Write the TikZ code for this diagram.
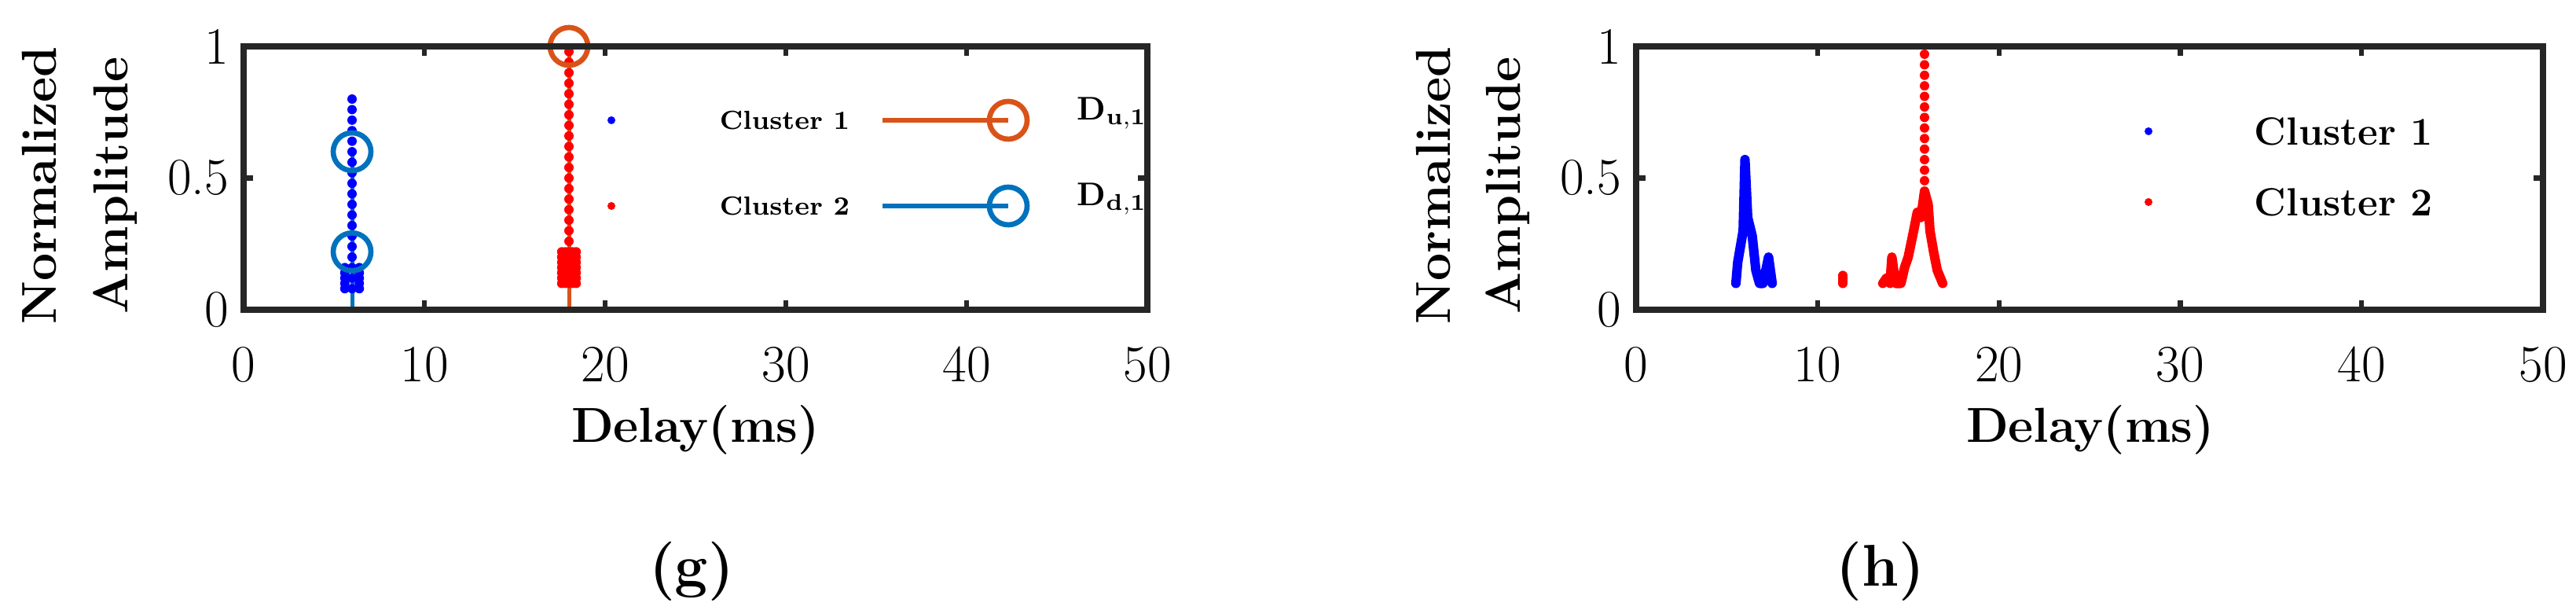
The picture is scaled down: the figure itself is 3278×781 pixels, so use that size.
\documentclass[tikz,border=0pt]{standalone}
\begin{document}
\definecolor{mblue}{RGB}{0,114,189}
\definecolor{morange}{RGB}{217,83,25}
\begin{tikzpicture}[x=0.24pt,y=0.24pt,
  frame/.style={line width=2pt,black!85},
  tick/.style={line width=1.5pt,black!85},
  ticklab/.style={font=\fontsize{16}{16}\selectfont,inner sep=0pt},
  axlab/.style={font=\fontsize{15}{15}\selectfont\bfseries,inner sep=0pt},
  caplab/.style={font=\fontsize{18}{18}\selectfont\bfseries,inner sep=0pt},
  leg/.style={font=\fontsize{8}{8}\selectfont\bfseries,inner sep=0pt,anchor=west},
  dlab/.style={font=\fontsize{10}{10}\selectfont\bfseries,inner sep=0pt,anchor=west},
  legb/.style={font=\fontsize{12}{12}\selectfont\bfseries,inner sep=0pt,anchor=west},
  bdot/.style={fill=blue},
  rdot/.style={fill=red}]
\useasboundingbox (0,0) rectangle (3278,781);
% ---------------- panel g ----------------
\begin{scope}[shift={(310,387)}]
  \def\xs{23}\def\ys{335}
  \draw[mblue,line width=1.2pt] (6*\xs,0) -- (6*\xs,0.6*\ys);
  \draw[morange,line width=1.2pt] (18*\xs,0) -- (18*\xs,1*\ys);
  \foreach \v in {0.08,0.12,...,0.83} \fill[bdot] (6*\xs,\v*\ys) circle (6);
  \foreach \v in {0.08,0.1,...,0.17} {\fill[bdot] (5.6*\xs,\v*\ys) circle (6);\fill[bdot] (6.4*\xs,\v*\ys) circle (6);}
  \foreach \v in {0.1,0.14,...,1.01} \fill[rdot] (18*\xs,\v*\ys) circle (6);
  \foreach \v in {0.1,0.12,...,0.22} {\fill[rdot] (17.6*\xs,\v*\ys) circle (6);\fill[rdot] (18.4*\xs,\v*\ys) circle (6);\fill[rdot] (17.8*\xs,\v*\ys) circle (6);\fill[rdot] (18.2*\xs,\v*\ys) circle (6);}
  \draw[mblue,line width=1.6pt] (6*\xs,0.6*\ys) circle (24);
  \draw[mblue,line width=1.6pt] (6*\xs,0.22*\ys) circle (24);
  \draw[morange,line width=1.6pt] (18*\xs,1*\ys) circle (24);
  \draw[frame] (0,0) rectangle (50*\xs,\ys);
  \foreach \t in {10,20,30,40} {\draw[tick] (\t*\xs,0) -- ++(0,12); \draw[tick] (\t*\xs,\ys) -- ++(0,-12);}
  \draw[tick] (0,0.5*\ys) -- ++(12,0); \draw[tick] (50*\xs,0.5*\ys) -- ++(-12,0);
  \foreach \t/\n in {0/a,10/b,20/c,30/d,40/e,50/f} \node[ticklab] (gx\n) at (\t*\xs,-70) {\t};
  \node[ticklab,anchor=east] (gy0) at (-18,0) {0};
  \node[ticklab,anchor=east] (gy5) at (-18,0.5*\ys) {0.5};
  \node[ticklab,anchor=east] (gy1) at (-18,\ys) {1};
  \fill[bdot] (468,241) circle (5);
  \fill[rdot] (468,132) circle (5);
  \node[leg] (gl1) at (605,241) {Cluster 1};
  \node[leg] (gl2) at (605,132) {Cluster 2};
  \draw[morange,line width=1.6pt] (813,241) -- (973,241);
  \draw[morange,line width=1.6pt] (973,241) circle (24);
  \draw[mblue,line width=1.6pt] (813,132) -- (973,132);
  \draw[mblue,line width=1.6pt] (973,132) circle (24);
  \node[dlab] (gd1) at (1060,250) {D$_{\mathbf{u,1}}$};
  \node[dlab] (gd2) at (1060,141) {D$_{\mathbf{d,1}}$};
\end{scope}
\node[axlab,rotate=90] (gyl1) at (50,545) {Normalized};
\node[axlab,rotate=90] (gyl2) at (147,545) {Amplitude};
\node[axlab] (gxl) at (885,234) {Delay(ms)};
\node[caplab] (gcap) at (880,54) {(g)};
% ---------------- panel h ----------------
\begin{scope}[shift={(2082,387)}]
  \def\xs{23.08}\def\ys{335}
  \draw[blue,line width=2.9pt,line cap=round,line join=round]
    (5.5*\xs,0.1*\ys) -- (5.6*\xs,0.18*\ys) -- (5.9*\xs,0.3*\ys) -- (6.0*\xs,0.57*\ys) -- (6.15*\xs,0.35*\ys) -- (6.4*\xs,0.28*\ys) -- (6.6*\xs,0.15*\ys) -- (6.8*\xs,0.1*\ys) -- (7.0*\xs,0.1*\ys) -- (7.3*\xs,0.2*\ys) -- (7.5*\xs,0.1*\ys);
  \draw[red,line width=2.9pt,line cap=round] (11.4*\xs,0.1*\ys) -- (11.4*\xs,0.13*\ys);
  \draw[red,line width=2.9pt,line cap=round,line join=round]
    (13.6*\xs,0.1*\ys) -- (13.8*\xs,0.12*\ys) -- (14.0*\xs,0.1*\ys) -- (14.1*\xs,0.2*\ys) -- (14.3*\xs,0.1*\ys) -- (14.6*\xs,0.1*\ys) -- (14.8*\xs,0.16*\ys) -- (15.0*\xs,0.2*\ys) -- (15.3*\xs,0.3*\ys) -- (15.5*\xs,0.37*\ys) -- (15.7*\xs,0.35*\ys) -- (15.9*\xs,0.45*\ys) -- (16.1*\xs,0.4*\ys) -- (16.2*\xs,0.3*\ys) -- (16.4*\xs,0.22*\ys) -- (16.6*\xs,0.15*\ys) -- (16.9*\xs,0.1*\ys);
  \foreach \v in {0.45,0.49,...,1.01} \fill[rdot] (15.9*\xs,\v*\ys) circle (6);
  \draw[frame] (0,0) rectangle (50*\xs,\ys);
  \foreach \t in {10,20,30,40} {\draw[tick] (\t*\xs,0) -- ++(0,12); \draw[tick] (\t*\xs,\ys) -- ++(0,-12);}
  \draw[tick] (0,0.5*\ys) -- ++(12,0); \draw[tick] (50*\xs,0.5*\ys) -- ++(-12,0);
  \foreach \t/\n in {0/a,10/b,20/c,30/d,40/e,50/f} \node[ticklab] (hx\n) at (\t*\xs,-70) {\t};
  \node[ticklab,anchor=east] (hy0) at (-18,0) {0};
  \node[ticklab,anchor=east] (hy5) at (-18,0.5*\ys) {0.5};
  \node[ticklab,anchor=east] (hy1) at (-18,\ys) {1};
  \fill[bdot] (652,227) circle (5);
  \fill[rdot] (652,137) circle (5);
  \node[legb] (hl1) at (786,227) {Cluster 1};
  \node[legb] (hl2) at (786,137) {Cluster 2};
\end{scope}
\node[axlab,rotate=90] (hyl1) at (1824,545) {Normalized};
\node[axlab,rotate=90] (hyl2) at (1919,545) {Amplitude};
\node[axlab] (hxl) at (2660,234) {Delay(ms)};
\node[caplab] (hcap) at (2393,54) {(h)};
\end{tikzpicture}
\end{document}
